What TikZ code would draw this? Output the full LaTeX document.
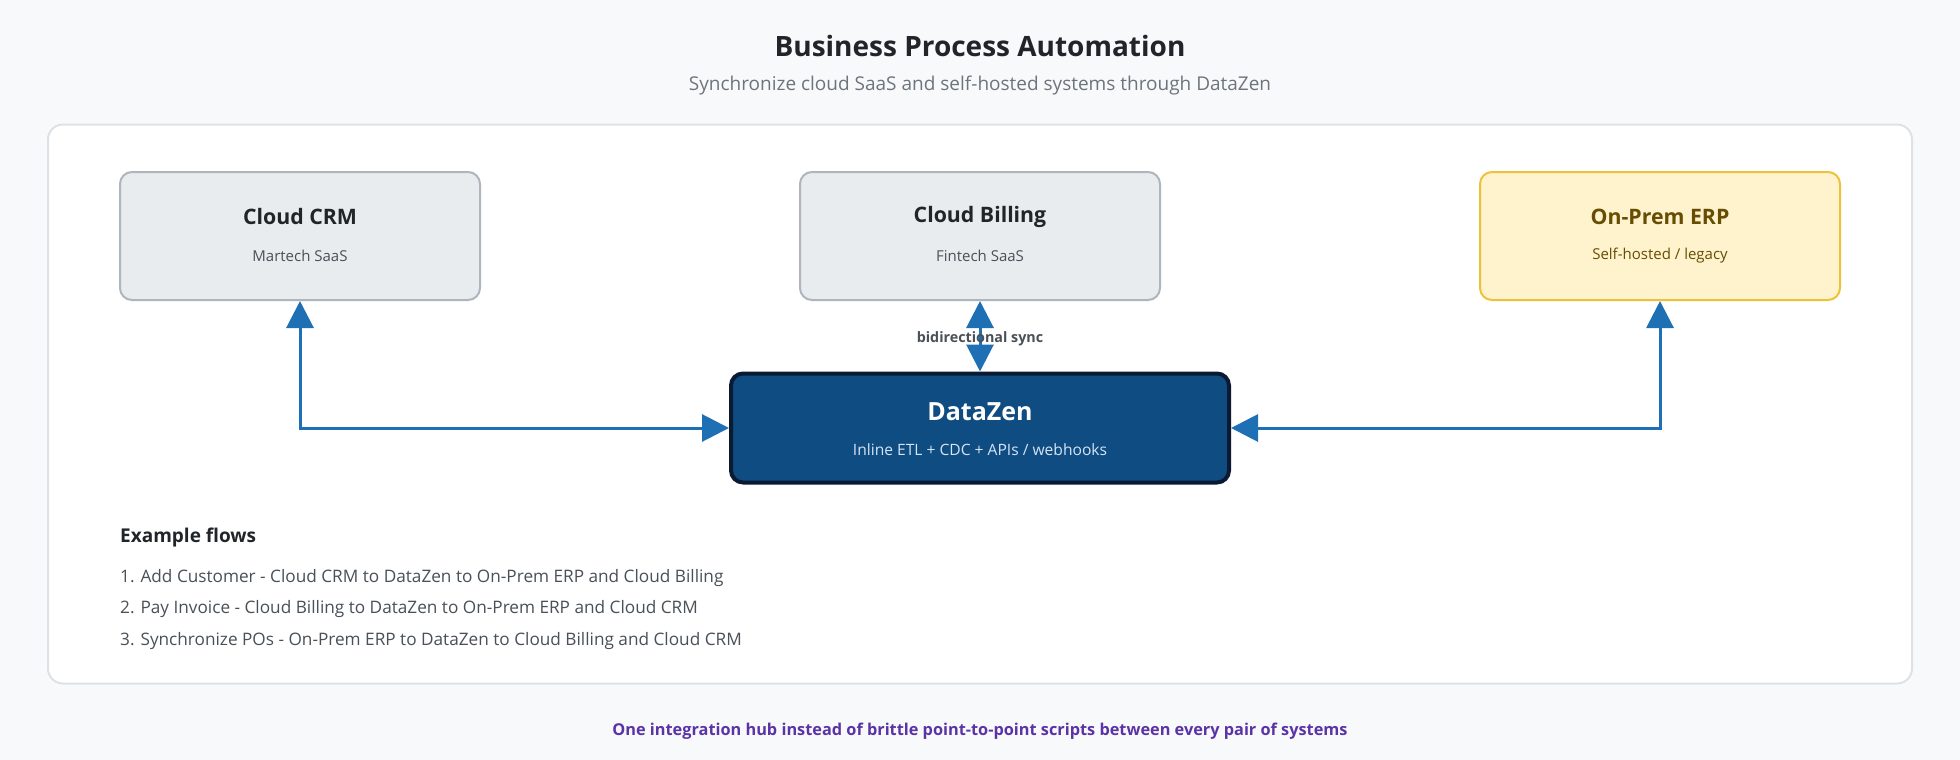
\documentclass[tikz,border=0pt]{standalone}
\usepackage{fontspec}
\setmainfont{Open Sans}
\usetikzlibrary{arrows.meta}
\definecolor{bgc}{HTML}{F8F9FA}
\definecolor{panelb}{HTML}{DEE2E6}
\definecolor{darktext}{HTML}{212529}
\definecolor{graytext}{HTML}{6C757D}
\definecolor{subtext}{HTML}{495057}
\definecolor{saasfill}{HTML}{E9ECEF}
\definecolor{saasdraw}{HTML}{ADB5BD}
\definecolor{erpfill}{HTML}{FFF3CD}
\definecolor{erpdraw}{HTML}{EDC23B}
\definecolor{erptext}{HTML}{664D03}
\definecolor{dzfill}{HTML}{0F4C81}
\definecolor{dzdraw}{HTML}{0B1A33}
\definecolor{dzsub}{HTML}{D6E4F5}
\definecolor{arrc}{HTML}{1F6FB5}
\definecolor{footc}{HTML}{5B33A6}
\tikzset{
  sysbox/.style={draw=saasdraw, fill=saasfill, line width=2pt, rounded corners=12pt,
    minimum width=360pt, minimum height=128pt, inner sep=0pt},
  erpbox/.style={sysbox, draw=erpdraw, fill=erpfill},
  hubbox/.style={draw=dzdraw, fill=dzfill, line width=4pt, rounded corners=12pt,
    minimum width=498pt, minimum height=109pt, inner sep=0pt},
  boxtitle/.style={font=\fontsize{21.3}{21.3}\selectfont\bfseries, text=darktext, anchor=center, inner sep=0pt},
  boxsub/.style={font=\fontsize{15}{15}\selectfont, text=subtext, anchor=center, inner sep=0pt},
  flowline/.style={font=\fontsize{17.2}{17.2}\selectfont, text=subtext, anchor=west, inner sep=0pt},
  link/.style={draw=arrc, line width=3pt, {Triangle[length=27pt,width=27pt]}-{Triangle[length=27pt,width=27pt]}},
}
\begin{document}
\begin{tikzpicture}[x=1pt,y=-1pt]
\path[fill=bgc] (0,0) rectangle (1960,760);
\useasboundingbox (0,0) rectangle (1960,760);
% panel
\node[draw=panelb, fill=white, line width=2pt, rounded corners=15pt, minimum width=1864pt, minimum height=559pt, inner sep=0pt] (panel) at (980,404) {};
% title
\node[font=\fontsize{28}{28}\selectfont\bfseries, text=darktext, inner sep=0pt] (title) at (980,46) {Business Process Automation};
\node[font=\fontsize{19}{19}\selectfont, text=graytext, inner sep=0pt] (subtitle) at (980,86) {Synchronize cloud SaaS and self-hosted systems through DataZen};
% boxes
\node[sysbox] (crm) at (300,236) {};
\node[boxtitle] (crmt) at (300,217) {Cloud CRM};
\node[boxsub] (crms) at (300,256) {Martech SaaS};
\node[sysbox] (bill) at (980,236) {};
\node[boxtitle] (billt) at (980,217) {Cloud Billing};
\node[boxsub] (bills) at (980,256) {Fintech SaaS};
\node[erpbox] (erp) at (1660,236) {};
\node[boxtitle, text=erptext] (erpt) at (1660,217) {On-Prem ERP};
\node[boxsub, text=erptext] (erps) at (1660,256) {Self-hosted / legacy};
\node[hubbox] (dz) at (980,428) {};
\node[font=\fontsize{25}{25}\selectfont\bfseries, text=white, inner sep=0pt] (dzt) at (980,412) {DataZen};
\node[font=\fontsize{15.6}{15.6}\selectfont, text=dzsub, inner sep=0pt] (dzs) at (980,450) {Inline ETL + CDC + APIs / webhooks};
% connectors
\draw[link] (crm.south) |- (dz.west);
\draw[link] (erp.south) |- (dz.east);
\draw[link] (bill.south) -- (dz.north);
\node[font=\fontsize{14.3}{14.3}\selectfont\bfseries, text=subtext, inner sep=0pt] (synclbl) at (980,339) {bidirectional sync};
% example flows
\node[font=\fontsize{19}{19}\selectfont\bfseries, text=darktext, anchor=west, inner sep=0pt] (exh) at (120,538) {Example flows};
\node[flowline] (f1) at (120,578) {1. Add Customer - Cloud CRM to DataZen to On-Prem ERP and Cloud Billing};
\node[flowline] (f2) at (120,609) {2. Pay Invoice - Cloud Billing to DataZen to On-Prem ERP and Cloud CRM};
\node[flowline] (f3) at (120,641) {3. Synchronize POs - On-Prem ERP to DataZen to Cloud Billing and Cloud CRM};
% footer
\node[font=\fontsize{16.3}{16.3}\selectfont\bfseries, text=footc, inner sep=0pt] (foot) at (980,731) {One integration hub instead of brittle point-to-point scripts between every pair of systems};
\end{tikzpicture}
\end{document}
